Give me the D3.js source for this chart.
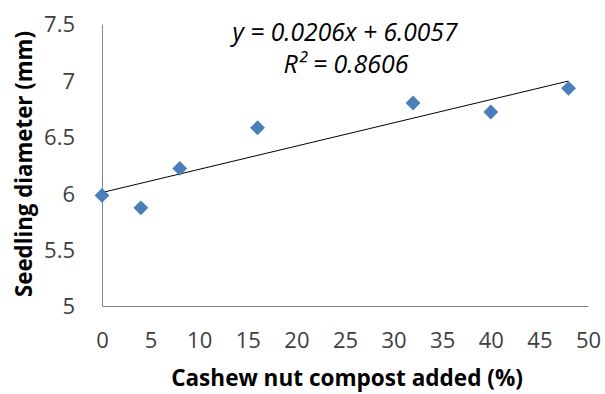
<!DOCTYPE html>
<meta charset="utf-8">
<head>
	<title>Seedling diameter vs cashew nut compost</title>
</head>
<style>
body{ margin: 0; background: #fff; }
svg{ display: block; font-family: "Open Sans", sans-serif; }
.tick text{ font-size: 22px; fill: #404040; font-family: "Open Sans", sans-serif; }
.axis-title{ font-size: 20px; font-weight: bold; fill: #000; }
.eq{ font-size: 20px; font-style: italic; fill: #000; }
</style>
<body>
<svg width="605" height="394"></svg>

<script src="https://cdnjs.cloudflare.com/ajax/libs/d3/7.8.5/d3.min.js"></script>
<script>

// data
var compost = [0, 4, 8, 16, 32, 40, 48];
var diameter = [5.98, 5.87, 6.22, 6.58, 6.80, 6.72, 6.93];
var xTicks = [0, 5, 10, 15, 20, 25, 30, 35, 40, 45, 50];
var yTicks = [5, 5.5, 6, 6.5, 7, 7.5];
var slope = 0.0206, intercept = 6.0057;
var eqLines = ['y = 0.0206x + 6.0057', 'R² = 0.8606'];

var svg = d3.select('svg');

var x = d3.scaleLinear().domain([0, 50]).range([102, 588]);
var y = d3.scaleLinear().domain([5, 7.5]).range([306, 24]);

// shrink/grow font so the text spans roughly what the original did
function fitWidth(sel, w){
	sel.each(function(){
		var fs = parseFloat(getComputedStyle(this).fontSize);
		var len = this.getComputedTextLength();
		d3.select(this).style('font-size', (fs * w / len).toFixed(2) + 'px');
	});
}

// axes (no tick marks, grey lines)
var xAxis = svg.append('g')
	.attr('transform', 'translate(0,306)')
	.call(d3.axisBottom(x).tickValues(xTicks).tickSize(0).tickPadding(26).tickFormat(d3.format('d')));
xAxis.select('.domain').attr('stroke', '#868686');

var yAxis = svg.append('g')
	.attr('transform', 'translate(102,0)')
	.call(d3.axisLeft(y).tickValues(yTicks).tickSize(0).tickPadding(27).tickFormat(function(d){ return d; }));
yAxis.select('.domain').attr('stroke', '#868686');
yAxis.selectAll('.tick text').attr('dy', '0.36em');

// trendline
svg.append('line')
	.attr('x1', x(0)).attr('y1', y(intercept))
	.attr('x2', x(48)).attr('y2', y(slope * 48 + intercept))
	.attr('stroke', '#000')
	.attr('stroke-width', 1);

// diamonds
svg.selectAll('path.pt')
	.data(compost)
	.enter()
	.append('path')
	.attr('class', 'pt')
	.attr('d', d3.symbol().type(d3.symbolSquare).size(110))
	.attr('transform', function(d, i){
		return 'translate(' + x(d) + ',' + y(diameter[i]) + ') rotate(45)';
	})
	.attr('fill', '#4a7ebb');

// equation
svg.selectAll('text.eq')
	.data(eqLines)
	.enter()
	.append('text')
	.attr('class', 'eq')
	.attr('x', function(d, i){ return i ? 346 : 345; })
	.attr('y', function(d, i){ return 41 + i * 32; })
	.attr('text-anchor', 'middle')
	.text(function(d){ return d; })
	.each(function(d, i){ fitWidth(d3.select(this), i ? 125 : 225); });

// axis titles
svg.append('text')
	.attr('class', 'axis-title')
	.attr('x', 347).attr('y', 386)
	.attr('text-anchor', 'middle')
	.text('Cashew nut compost added (%)')
	.call(fitWidth, 352);

svg.append('text')
	.attr('class', 'axis-title')
	.attr('transform', 'translate(32,164) rotate(-90)')
	.attr('text-anchor', 'middle')
	.text('Seedling diameter (mm)')
	.call(fitWidth, 266);

</script>
</body>
</html>
